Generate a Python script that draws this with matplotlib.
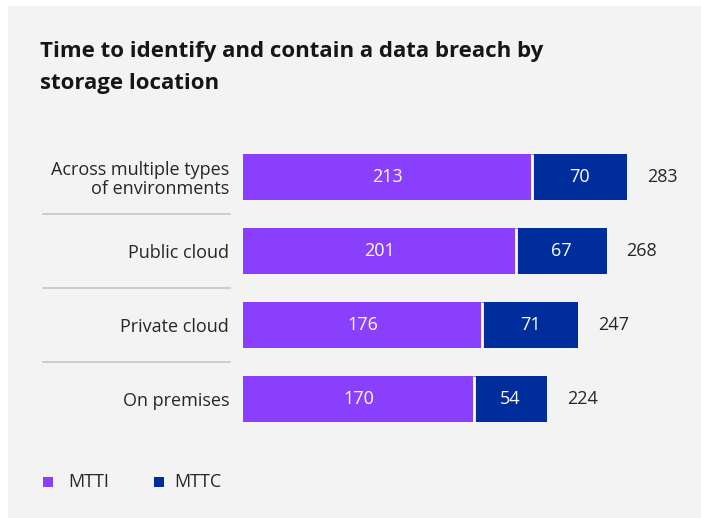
import matplotlib.pyplot as plt
from matplotlib.patches import Rectangle
from matplotlib.transforms import blended_transform_factory

plt.rcParams["font.family"] = ["Open Sans", "DejaVu Sans"]

# data
locations = ["Across multiple types\nof environments", "Public cloud", "Private cloud", "On premises"]
mtti = [213, 201, 176, 170]
mttc = [70, 67, 71, 54]
totals = [283, 268, 247, 224]
title_lines = ["Time to identify and contain a data breach by", "storage location"]

purple = "#8a3ffc"
blue = "#002d9c"
bg = "#f3f3f3"
txt = "#262626"

W, H = 701, 518
fig = plt.figure(figsize=(W / 100, H / 100), dpi=100, facecolor="white")

# grey panel
fig.patches.append(Rectangle((8 / W, 0), 1 - 8 / W, 512 / H, transform=fig.transFigure,
                             facecolor=bg, edgecolor="none", zorder=-10))

for line, base in zip(title_lines, [57, 89]):
    fig.text(40 / W, 1 - base / H, line, fontsize=16, fontweight="bold", color="#161616",
             va="baseline", ha="left")

# axes: bars start at x=243 px, 1.357 px per day
x0 = 243
xmax = 330
ax = fig.add_axes([x0 / W, 1 - 436 / H, xmax * 1.357 / W, 296 / H])
ax.set_facecolor("none")
ax.set_xlim(0, xmax)
ax.set_ylim(3.5, -0.5)

ypos = list(range(len(locations)))
h = 46 / 74
ax.barh(ypos, mtti, height=h, color=purple, linewidth=0)
ax.barh(ypos, mttc, left=mtti, height=h, color=blue, linewidth=0)

# thin white gap between segments
for y, a in zip(ypos, mtti):
    ax.plot([a, a], [y - h / 2, y + h / 2], color="white", lw=2, solid_capstyle="butt")

for y, a, b, t in zip(ypos, mtti, mttc, totals):
    ax.text(a / 2, y, str(a), color="white", ha="center", va="center", fontsize=13)
    ax.text(a + b / 2, y, str(b), color="white", ha="center", va="center", fontsize=13)
    ax.text(t + 14.5, y, str(t), color=txt, ha="left", va="center", fontsize=13)

ax.set_yticks(ypos)
ax.set_yticklabels(locations, fontsize=13, color=txt, linespacing=1.1)
ax.tick_params(axis="y", length=0, pad=10)
ax.set_xticks([])
for s in ax.spines.values():
    s.set_visible(False)

# separators between categories
tr = blended_transform_factory(fig.transFigure, ax.transData)
for y in [0.5, 1.5, 2.5]:
    ax.plot([43 / W, 230 / W], [y, y], transform=tr, color="#c6c6c6", lw=1.2, clip_on=False)

# legend
for xs, xt, lab, c in [(43, 68, "MTTI", purple), (154, 174, "MTTC", blue)]:
    fig.patches.append(Rectangle((xs / W, 1 - 487 / H), 10 / W, 10 / H, transform=fig.transFigure,
                                 facecolor=c, edgecolor="none"))
    fig.text(xt / W, 1 - 482 / H, lab, fontsize=13, color=txt, va="center", ha="left")

fig.savefig("out.png", dpi=100, facecolor=fig.get_facecolor())
